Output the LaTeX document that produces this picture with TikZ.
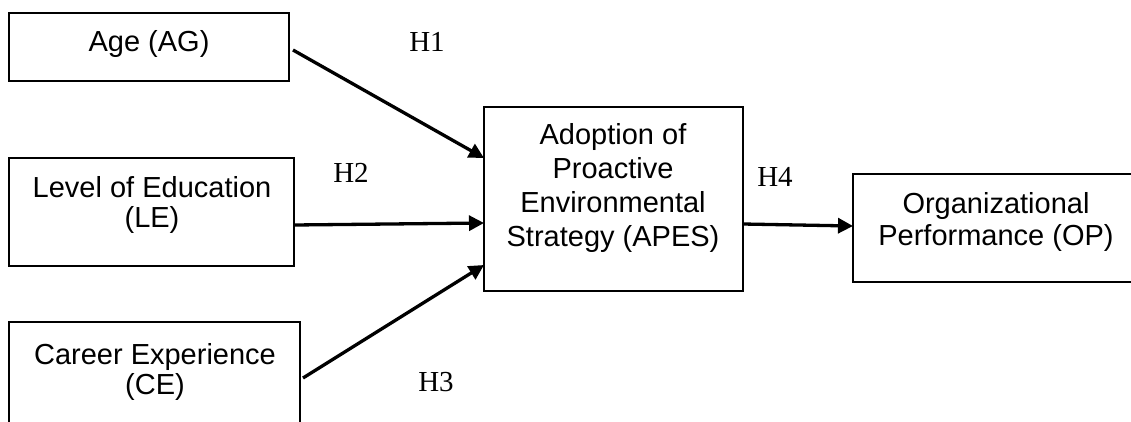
\documentclass[tikz,border=0pt]{standalone}
\usepackage{fontspec}
\setmainfont{Liberation Serif}
\newfontfamily\arialf{Liberation Sans}
\usetikzlibrary{arrows.meta}
\newcommand\mylines[2]{\arialf\fontsize{29}{#1}\selectfont\begin{tabular}[t]{@{}c@{}}#2\end{tabular}}
\begin{document}
\begin{tikzpicture}[x=1pt,y=-1pt,
  box/.style={draw=black, line width=1.8pt, inner sep=0pt, outer sep=0pt, anchor=north west},
  txt/.style={inner sep=0pt, anchor=base},
  hyp/.style={inner sep=0pt, anchor=base, font=\fontsize{29}{33}\selectfont},
  arr/.style={line width=3.3pt, -{Triangle[length=15pt,width=15pt]}}]
\useasboundingbox (0,0) rectangle (1131,421);
% boxes
\node[box, minimum width=280, minimum height=68] (age) at (9,13) {};
\node[box, minimum width=285, minimum height=108] (le) at (9,158) {};
\node[box, minimum width=291, minimum height=108] (ce) at (9,322) {};
\node[box, minimum width=259, minimum height=184] (apes) at (484,107) {};
\node[box, minimum width=286, minimum height=108] (op) at (853,174) {};
% box texts
\node[txt] (ageT) at (149,51) {\mylines{32}{Age (AG)}};
\node[txt] (leT) at (152,197) {\mylines{30}{Level of Education\\(LE)}};
\node[txt] (ceT) at (155,364) {\mylines{30}{Career Experience\\(CE)}};
\node[txt] (apesT) at (613,144) {\mylines{34}{Adoption of\\Proactive\\Environmental\\Strategy (APES)}};
\node[txt] (opT) at (996,213) {\mylines{32}{Organizational\\Performance (OP)}};
% hypothesis labels
\node[hyp] (h1) at (427,51) {H1};
\node[hyp] (h2) at (351,182) {H2};
\node[hyp] (h3) at (436,391) {H3};
\node[hyp] (h4) at (775,186) {H4};
% arrows
\draw[arr] ([shift={(4,3)}]age.east) -- ([shift={(0,-41)}]apes.west);
\draw[arr] ([shift={(0,13)}]le.east) -- ([shift={(0,24)}]apes.west);
\draw[arr] ([shift={(3,2)}]ce.east) -- ([shift={(0,66)}]apes.west);
\draw[arr] ([shift={(0,25)}]apes.east) -- ([shift={(0,-2)}]op.west);
\end{tikzpicture}
\end{document}
